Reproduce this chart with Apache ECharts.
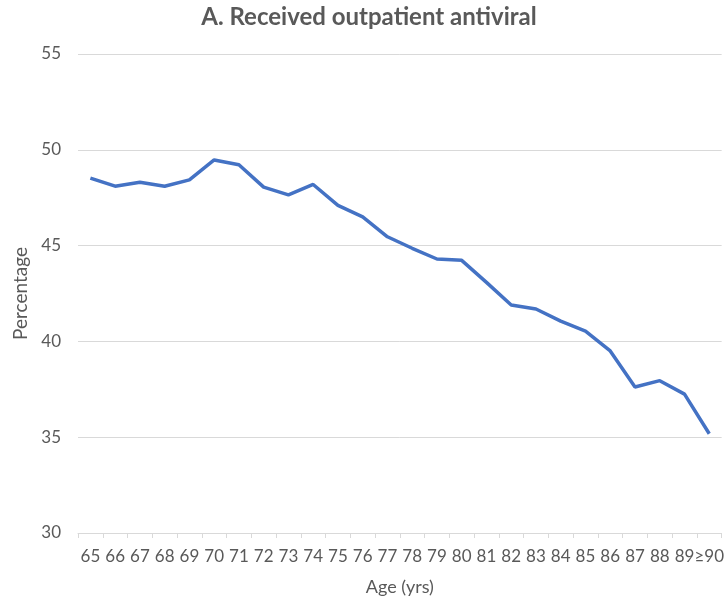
<!DOCTYPE html>
<html>
<head>
<meta charset="utf-8">
<script src="https://cdn.jsdelivr.net/npm/echarts@6/dist/echarts.min.js"></script>
<style>html,body{margin:0;padding:0;background:#fff;}#c{width:727px;height:601px;}</style>
</head>
<body>
<div id="c"></div>
<script>
const categories = ['65','66','67','68','69','70','71','72','73','74','75','76','77','78','79','80','81','82','83','84','85','86','87','88','89','≥90'];
const percentages = [48.52,48.10,48.31,48.10,48.43,49.47,49.22,48.05,47.65,48.19,47.10,46.50,45.46,44.86,44.30,44.23,43.08,41.90,41.69,41.06,40.54,39.50,37.62,37.95,37.25,35.18];
const yTicks = {min:30, max:55, interval:5};

const chart = echarts.init(document.getElementById('c'));
const font = 'Lato, "Open Sans", sans-serif';
chart.setOption({
  animation:false,
  backgroundColor:'#fff',
  title:{
    text:'A. Received outpatient antiviral',
    left:364, top:0, textAlign:'center',
    textStyle:{fontFamily:font, fontSize:24, fontWeight:'bold', color:'#595959'}
  },
  grid:{left:78, right:3, top:54, bottom:66},
  xAxis:{
    type:'category', data:categories, boundaryGap:true,
    name:'Age (yrs)', nameLocation:'middle', nameGap:45,
    nameTextStyle:{fontFamily:font, fontSize:18, color:'#595959'},
    axisLine:{lineStyle:{color:'#d9d9d9'}},
    axisTick:{show:true, length:5, lineStyle:{color:'#d9d9d9'}},
    axisLabel:{fontFamily:font, fontSize:17, color:'#595959', margin:15, interval:0},
    splitLine:{show:false}
  },
  yAxis:{
    type:'value', min:yTicks.min, max:yTicks.max, interval:yTicks.interval,
    name:'Percentage', nameLocation:'middle', nameGap:48, nameRotate:90,
    nameTextStyle:{fontFamily:font, fontSize:19, color:'#595959'},
    axisLine:{show:false}, axisTick:{show:false},
    axisLabel:{fontFamily:font, fontSize:17, color:'#595959', margin:17},
    splitLine:{lineStyle:{color:'#d9d9d9', width:1}}
  },
  series:[{
    type:'line', data:percentages, symbol:'none',
    lineStyle:{color:'#4472C4', width:3.5},
    itemStyle:{color:'#4472C4'}
  }]
});
</script>
</body>
</html>
